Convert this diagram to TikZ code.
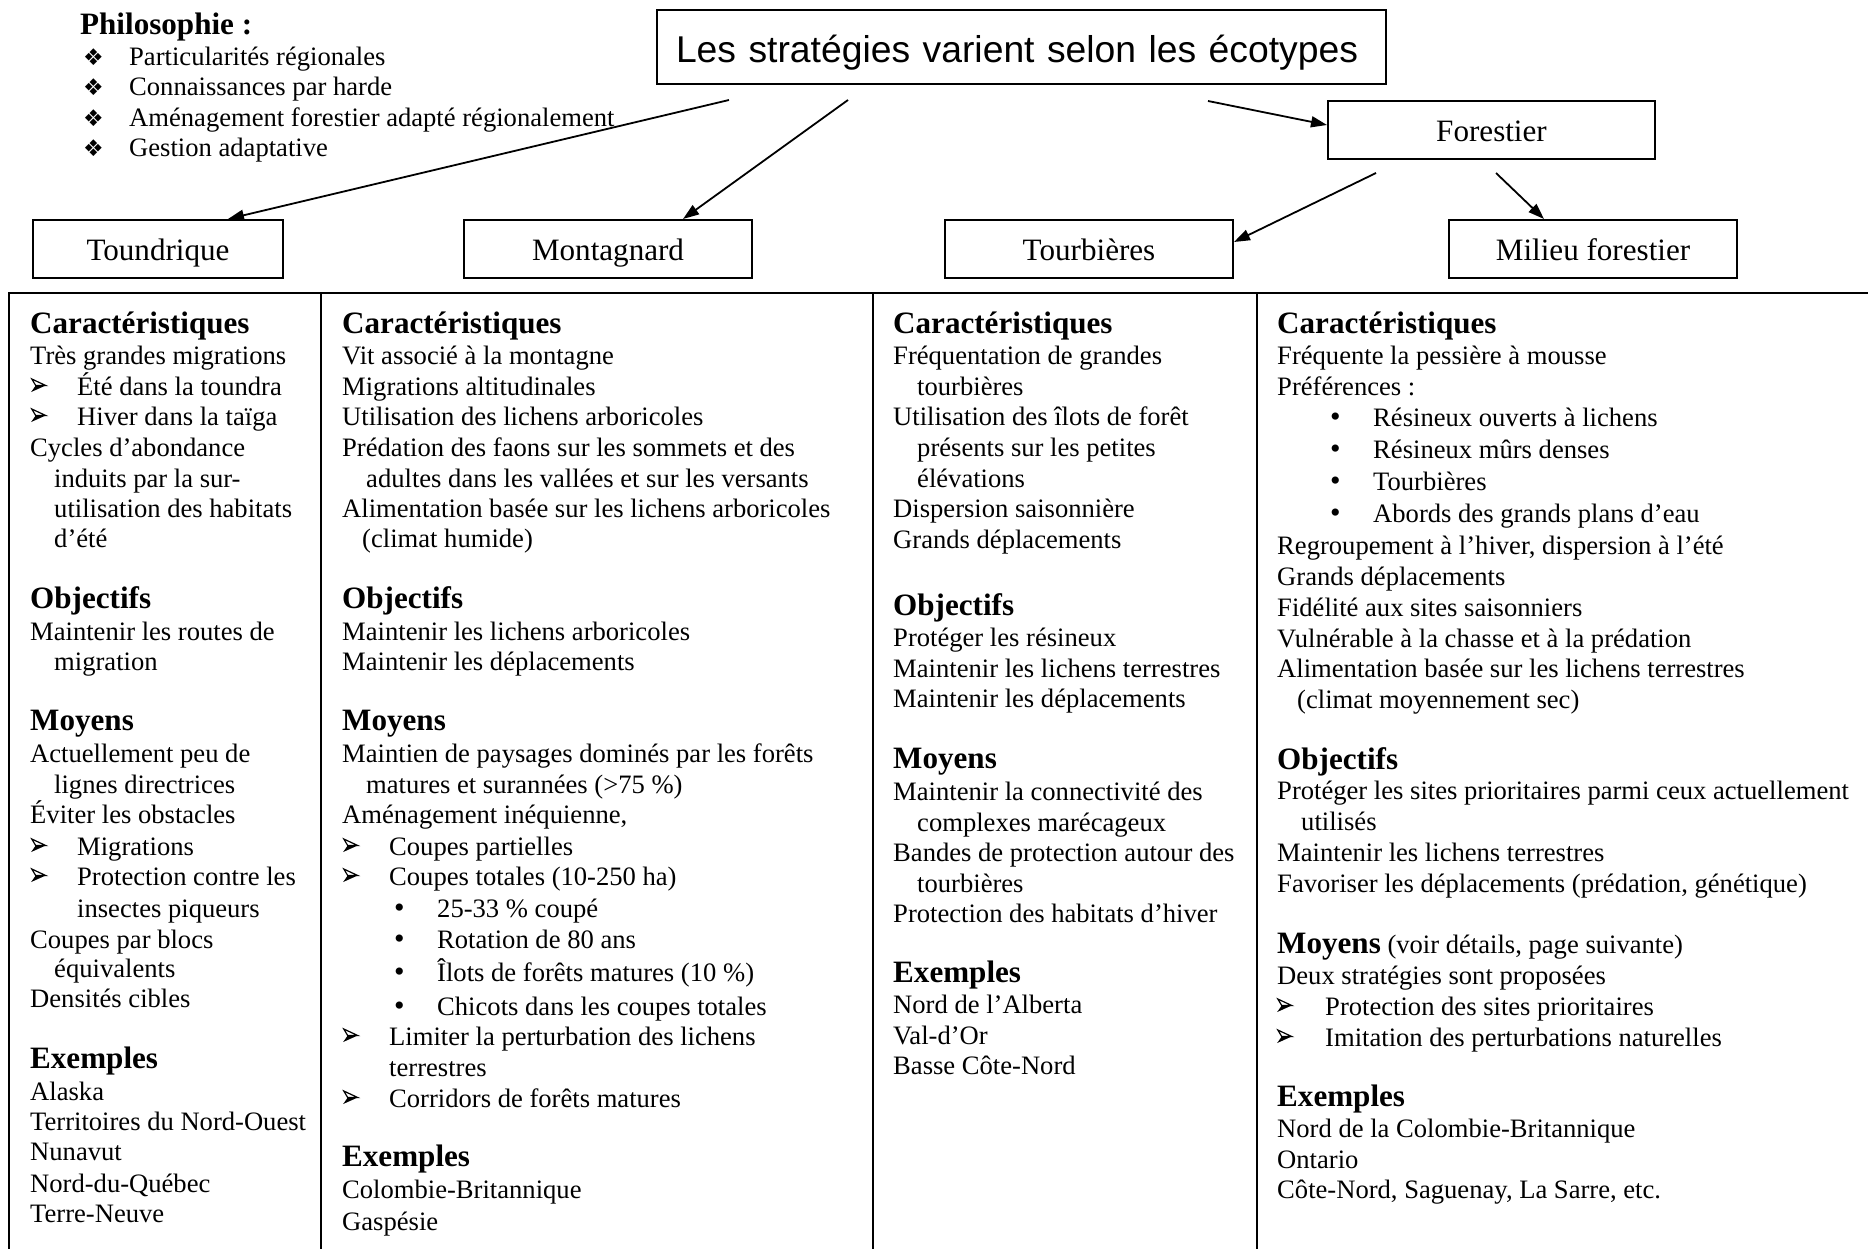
\documentclass[tikz,border=0pt]{standalone}
\usepackage{fontspec}
\setmainfont{Liberation Serif}
\newfontfamily\arialf{Liberation Sans}
\newfontfamily\dejavu{DejaVu Sans}
\usetikzlibrary{arrows.meta}
\newcommand\hd[1]{{\fontsize{31.1pt}{31pt}\selectfont\bfseries #1}}
\newcommand\blt[3]{\makebox[#1][l]{#2}#3}
\newcommand\arw{\tikz[baseline=0pt,x=1pt,y=1pt,line width=1.2pt,line join=miter]{%
  \fill (0,3) -- (14.5,9.5) -- (4.5,9.5) -- cycle;
  \draw (0.6,16) -- (14.5,9.5) -- (4.5,9.5) -- cycle;}}
\newcommand\bdot{{\fontsize{30pt}{30pt}\selectfont •}}
\newcommand\dia{{\dejavu\fontsize{23pt}{23pt}\selectfont ❖}}
\tikzset{
  ln/.style={anchor=base west, inner sep=0pt, font=\fontsize{26.6pt}{30.6pt}\selectfont},
  box/.style={draw, line width=2pt, minimum height=58pt, inner ysep=0pt, inner xsep=0pt,
    text height=40.5pt, text depth=17.5pt, font=\fontsize{31.1pt}{35pt}\selectfont},
  arr/.style={-{Triangle[length=16pt,width=11pt]}, line width=1.8pt},
  rule/.style={line width=2.2pt}
}
\begin{document}
\begin{tikzpicture}[x=1pt,y=-1pt]
\useasboundingbox (0,0) rectangle (1868,1249);
% header block
\node[ln, font=\fontsize{31.1pt}{31pt}\selectfont\bfseries] (phil) at (80,35) {Philosophie :};
\foreach \y/\t [count=\i] in {65.5/{Particularités régionales},96/{Connaissances par harde},126.5/{Aménagement forestier adapté régionalement},157/{Gestion adaptative}}
  \node[ln] (ph-\i) at (83,\y) {\blt{46pt}{\dia}{\t}};
% title and boxes
\node[draw, line width=2pt, minimum height=74pt, inner ysep=0pt, inner xsep=19pt, text width=691pt, align=left,
  text height=53pt, text depth=21pt, font=\arialf\fontsize{37.3pt}{40pt}\selectfont] (title) at (1021.5,47) {Les stratégies varient selon les écotypes};
\node[box, minimum width=327pt] (fore) at (1491.5,130) {Forestier};
\node[box, minimum width=250pt] (toun) at (158,249) {Toundrique};
\node[box, minimum width=288pt] (mont) at (608,249) {Montagnard};
\node[box, minimum width=288pt] (tourb) at (1089,249) {Tourbières};
\node[box, minimum width=288pt] (mil) at (1593,249) {Milieu forestier};
% connectors
\coordinate (s1) at (729,100);
\coordinate (s2) at (848,100);
\coordinate (s3) at (1208,101);
\coordinate (s4) at (1376,173);
\coordinate (s5) at (1496,173);
\draw[arr] (s1) -- ([xshift=70pt]toun.north);
\draw[arr] (s2) -- ([xshift=75pt]mont.north);
\draw[arr] (s3) -- ([yshift=5pt]fore.west);
\draw[arr] (s4) -- ([yshift=7pt]tourb.east);
\draw[arr] (s5) -- ([xshift=-49pt]mil.north);
% table rules
\draw[rule] (9,1249) -- (9,293) -- (1868,293);
\draw[rule] (321,293) -- (321,1249);
\draw[rule] (873,293) -- (873,1249);
\draw[rule] (1257,293) -- (1257,1249);
% column 1
\foreach \x/\y/\t [count=\i] in {
30/333/{\hd{Caractéristiques}},
30/364/{Très grandes migrations},
31/395/{\blt{46pt}{\arw}{Été dans la toundra}},
31/425/{\blt{46pt}{\arw}{Hiver dans la taïga}},
30/456/{Cycles d’abondance},
54/487/{induits par la sur-},
54/517/{utilisation des habitats},
54/547/{d’été},
30/608/{\hd{Objectifs}},
30/640/{Maintenir les routes de},
54/670/{migration},
30/730/{\hd{Moyens}},
30/762/{Actuellement peu de},
54/793/{lignes directrices},
30/823/{Éviter les obstacles},
31/855/{\blt{46pt}{\arw}{Migrations}},
31/885/{\blt{46pt}{\arw}{Protection contre les}},
77/917/{insectes piqueurs},
30/948/{Coupes par blocs},
54/977/{équivalents},
30/1007/{Densités cibles},
30/1068/{\hd{Exemples}},
30/1100/{Alaska},
30/1130/{Territoires du Nord-Ouest},
30/1160/{Nunavut},
30/1192/{Nord-du-Québec},
30/1222/{Terre-Neuve}}
  \node[ln] (ka-\i) at (\x,\y) {\t};
% column 2
\foreach \x/\y/\t [count=\i] in {
342/333/{\hd{Caractéristiques}},
342/364/{Vit associé à la montagne},
342/395/{Migrations altitudinales},
342/425/{Utilisation des lichens arboricoles},
342/456/{Prédation des faons sur les sommets et des},
366/487/{adultes dans les vallées et sur les versants},
342/517/{Alimentation basée sur les lichens arboricoles},
362/547/{(climat humide)},
342/608/{\hd{Objectifs}},
342/640/{Maintenir les lichens arboricoles},
342/670/{Maintenir les déplacements},
342/730/{\hd{Moyens}},
342/762/{Maintien de paysages dominés par les forêts},
366/793/{matures et surannées (>75 \%)},
342/823/{Aménagement inéquienne,},
343/855/{\blt{46pt}{\arw}{Coupes partielles}},
343/885/{\blt{46pt}{\arw}{Coupes totales (10-250 ha)}},
394/917/{\blt{43pt}{\bdot}{25-33 \% coupé}},
394/948/{\blt{43pt}{\bdot}{Rotation de 80 ans}},
394/981/{\blt{43pt}{\bdot}{Îlots de forêts matures (10 \%)}},
394/1015/{\blt{43pt}{\bdot}{Chicots dans les coupes totales}},
343/1045/{\blt{46pt}{\arw}{Limiter la perturbation des lichens}},
389/1076/{terrestres},
343/1107/{\blt{46pt}{\arw}{Corridors de forêts matures}},
342/1166/{\hd{Exemples}},
342/1198/{Colombie-Britannique},
342/1230/{Gaspésie}}
  \node[ln] (kb-\i) at (\x,\y) {\t};
% column 3
\foreach \x/\y/\t [count=\i] in {
893/333/{\hd{Caractéristiques}},
893/364/{Fréquentation de grandes},
917/395/{tourbières},
893/425/{Utilisation des îlots de forêt},
917/456/{présents sur les petites},
917/487/{élévations},
893/517/{Dispersion saisonnière},
893/548/{Grands déplacements},
893/615/{\hd{Objectifs}},
893/646/{Protéger les résineux},
893/677/{Maintenir les lichens terrestres},
893/707/{Maintenir les déplacements},
893/768/{\hd{Moyens}},
893/800/{Maintenir la connectivité des},
917/831/{complexes marécageux},
893/861/{Bandes de protection autour des},
917/892/{tourbières},
893/922/{Protection des habitats d’hiver},
893/982/{\hd{Exemples}},
893/1013/{Nord de l’Alberta},
893/1044/{Val-d’Or},
893/1074/{Basse Côte-Nord}}
  \node[ln] (kc-\i) at (\x,\y) {\t};
% column 4
\foreach \x/\y/\t [count=\i] in {
1277/333/{\hd{Caractéristiques}},
1277/364/{Fréquente la pessière à mousse},
1277/395/{Préférences :},
1330/426/{\blt{43pt}{\bdot}{Résineux ouverts à lichens}},
1330/458/{\blt{43pt}{\bdot}{Résineux mûrs denses}},
1330/490/{\blt{43pt}{\bdot}{Tourbières}},
1330/522/{\blt{43pt}{\bdot}{Abords des grands plans d’eau}},
1277/554/{Regroupement à l’hiver, dispersion à l’été},
1277/585/{Grands déplacements},
1277/616/{Fidélité aux sites saisonniers},
1277/647/{Vulnérable à la chasse et à la prédation},
1277/677/{Alimentation basée sur les lichens terrestres},
1297/708/{(climat moyennement sec)},
1277/769/{\hd{Objectifs}},
1277/799/{Protéger les sites prioritaires parmi ceux actuellement},
1301/830/{utilisés},
1277/861/{Maintenir les lichens terrestres},
1277/892/{Favoriser les déplacements (prédation, génétique)},
1277/953/{\hd{Moyens} (voir détails, page suivante)},
1277/984/{Deux stratégies sont proposées},
1277/1015/{\blt{48pt}{\arw}{Protection des sites prioritaires}},
1277/1046/{\blt{48pt}{\arw}{Imitation des perturbations naturelles}},
1277/1106/{\hd{Exemples}},
1277/1137/{Nord de la Colombie-Britannique},
1277/1168/{Ontario},
1277/1198/{Côte-Nord, Saguenay, La Sarre, etc.}}
  \node[ln] (kd-\i) at (\x,\y) {\t};
\end{tikzpicture}
\end{document}
